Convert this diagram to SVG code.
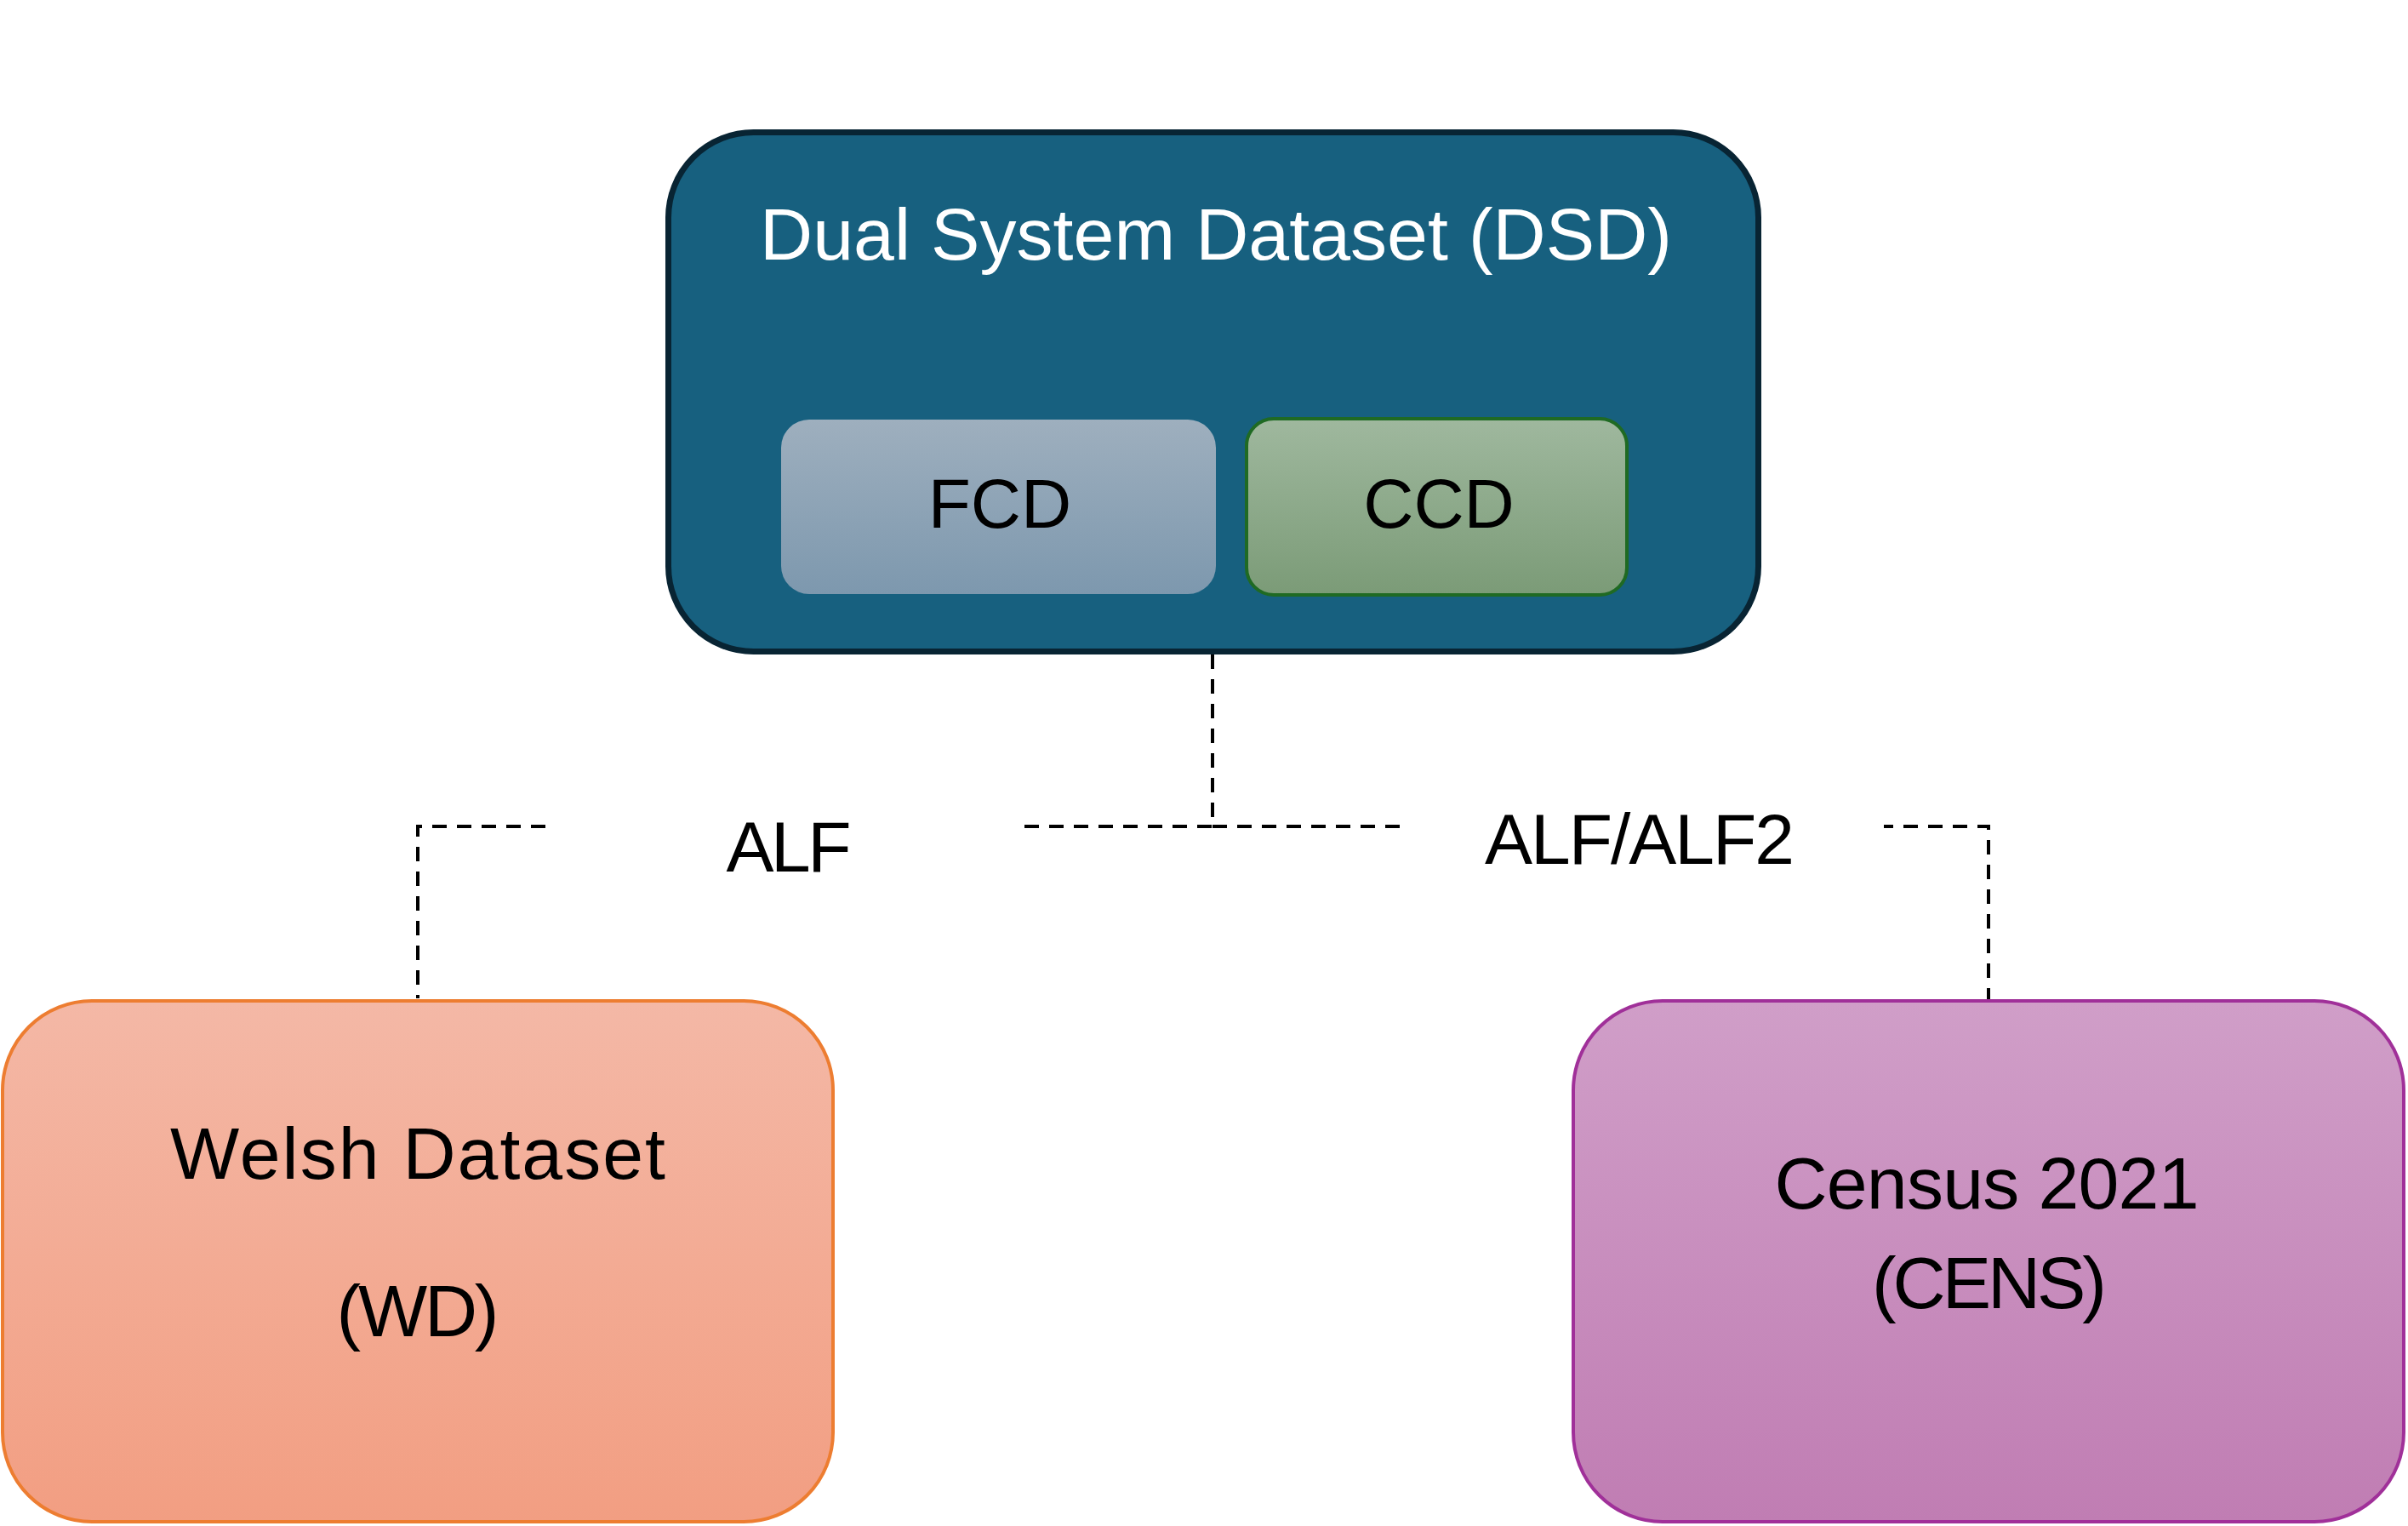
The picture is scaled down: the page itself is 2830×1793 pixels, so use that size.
<svg xmlns="http://www.w3.org/2000/svg" width="2830" height="1793" viewBox="0 0 2830 1793">
<style>
.t{font-family:"Liberation Sans",Arial,sans-serif;text-anchor:middle;fill:#000}
.w{fill:#fff}
.conn{fill:none;stroke:#000;stroke-width:4;stroke-dasharray:17 12}
</style>
<defs>
<linearGradient id="gF" x1="0" y1="0" x2="0" y2="1"><stop offset="0" stop-color="#9eafbe"/><stop offset="1" stop-color="#7d98ae"/></linearGradient>
<linearGradient id="gC" x1="0" y1="0" x2="0" y2="1"><stop offset="0" stop-color="#9fb89e"/><stop offset="1" stop-color="#7b9b77"/></linearGradient>
<linearGradient id="gW" x1="0" y1="0" x2="0" y2="1"><stop offset="0" stop-color="#f4b8a6"/><stop offset="1" stop-color="#f29e82"/></linearGradient>
<linearGradient id="gN" x1="0" y1="0" x2="0" y2="1"><stop offset="0" stop-color="#d09ec8"/><stop offset="1" stop-color="#c07db3"/></linearGradient>
</defs>
<rect width="2830" height="1793" fill="#fff"/>
<g id="connectors">
<path class="conn" d="M1425,769 V971 H491 V1173"/>
<path class="conn" d="M1425,971 H2337 V1174"/>
<rect x="653" y="925" width="550" height="110" fill="#fff"/>
<rect x="1648" y="925" width="566" height="110" fill="#fff"/>
<text class="t" x="927" y="1024" font-size="84" textLength="147">ALF</text>
<text class="t" x="1927" y="1015" font-size="84" textLength="364">ALF/ALF2</text>
</g>
<g id="dsd">
<rect x="785.5" y="155.5" width="1281" height="610" rx="100" fill="#17607f" stroke="#082433" stroke-width="7"/>
<text class="t w" x="1429" y="305" font-size="86" textLength="1072">Dual System Dataset (DSD)</text>
</g>
<g id="fcd">
<rect x="918" y="493" width="511" height="205" rx="33" fill="url(#gF)"/>
<text class="t" x="1175" y="620" font-size="82">FCD</text>
</g>
<g id="ccd">
<rect x="1465" y="492" width="447" height="207" rx="32" fill="url(#gC)" stroke="#1f6a23" stroke-width="4"/>
<text class="t" x="1691" y="620" font-size="82">CCD</text>
</g>
<g id="wd">
<rect x="3" y="1176" width="976" height="612" rx="105" fill="url(#gW)" stroke="#ed7d31" stroke-width="4"/>
<text class="t" x="491" y="1385" font-size="86" textLength="582">Welsh Dataset</text>
<text class="t" x="491" y="1570" font-size="86" textLength="191">(WD)</text>
</g>
<g id="cens">
<rect x="1849" y="1176" width="976" height="612" rx="105" fill="url(#gN)" stroke="#a03099" stroke-width="4"/>
<text class="t" x="2335" y="1420" font-size="86" textLength="499">Census 2021</text>
<text class="t" x="2338" y="1537" font-size="86" textLength="276">(CENS)</text>
</g>
</svg>
